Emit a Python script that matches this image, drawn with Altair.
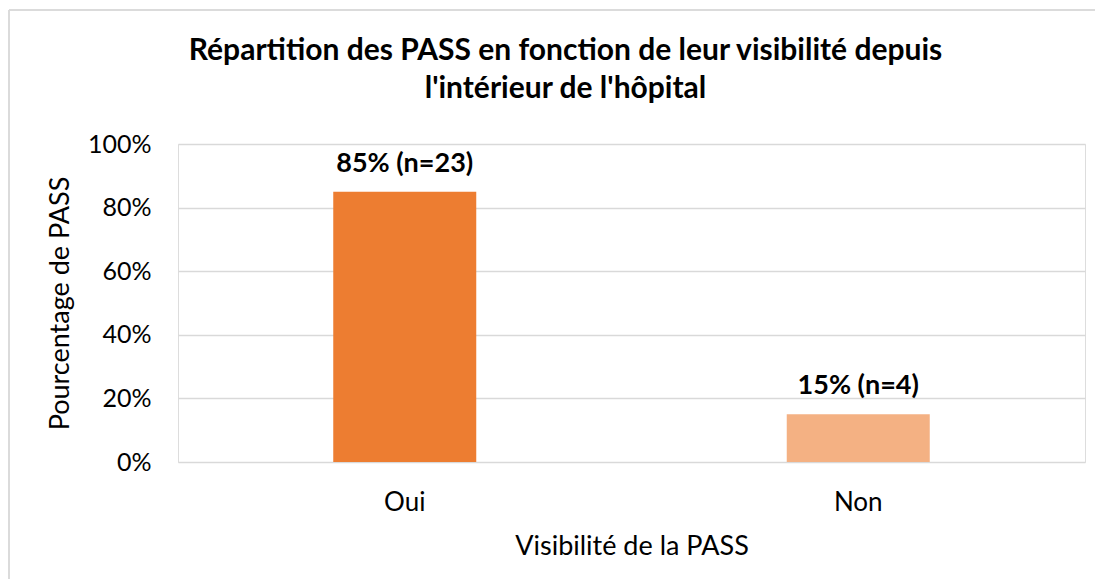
import altair as alt
import pandas as pd

categories = ["Oui", "Non"]
values = [0.85, 0.15]
labels = ["85% (n=23)", "15% (n=4)"]
colors = ["#ED7D31", "#F4B183"]

df = pd.DataFrame({"cat": categories, "val": values, "lab": labels, "col": colors})

FONT = "Lato"

base = alt.Chart(df).encode(
    x=alt.X("cat:N", sort=categories, title="Visibilité de la PASS",
            scale=alt.Scale(paddingInner=0, paddingOuter=0),
            axis=alt.Axis(labelAngle=0, ticks=False, domain=False, labelPadding=27,
                          labelFontSize=26, titleFontSize=27, titlePadding=18,
                          labelFont=FONT, titleFont=FONT, labelColor="#000", titleColor="#000",
                          titleFontWeight="normal")),
)

bars = base.mark_bar(size=143).encode(
    y=alt.Y("val:Q", title="Pourcentage de PASS",
            scale=alt.Scale(domain=[0, 1]),
            axis=alt.Axis(format="%", values=[0, 0.2, 0.4, 0.6, 0.8, 1.0], ticks=False,
                          domain=False, labelPadding=27, labelFontSize=25, titleFontSize=27,
                          labelFont=FONT, titleFont=FONT, labelColor="#000", titleColor="#000",
                          titleFontWeight="normal", titlePadding=13,
                          gridColor="#D9D9D9", gridWidth=1.5)),
    color=alt.Color("col:N", scale=None),
)

text = base.mark_text(dy=-14, fontSize=27, fontWeight="bold", font=FONT, color="#000",
                      baseline="bottom").encode(
    y=alt.Y("val:Q"),
    text="lab:N",
)

frame = alt.Chart(df).mark_rule(color="#D9D9D9", strokeWidth=1.5).encode(
    x=alt.value(-169), x2=alt.value(1000), y=alt.value(-134), y2=alt.value(-134)
)
frame2 = alt.Chart(df).mark_rule(color="#D9D9D9", strokeWidth=1.5).encode(
    x=alt.value(-169), x2=alt.value(-169), y=alt.value(-134), y2=alt.value(440)
)

chart = alt.layer(frame, frame2, bars, text).properties(
    width=907,
    height=318,
    title=alt.TitleParams(
        ["Répartition des PASS en fonction de leur visibilité depuis", "l'intérieur de l'hôpital"],
        fontSize=30, fontWeight="bold", font=FONT, color="#000", anchor="middle",
        frame="group", dx=-66, offset=-95, lineHeight=38,
    ),
    padding={"left": 170, "top": 136, "right": 10, "bottom": 117},
    autosize=alt.AutoSizeParams(type="none"),
).configure_view(stroke=None).configure(background="white")

chart.save("out.html", embed_options={"renderer": "svg", "actions": False})
